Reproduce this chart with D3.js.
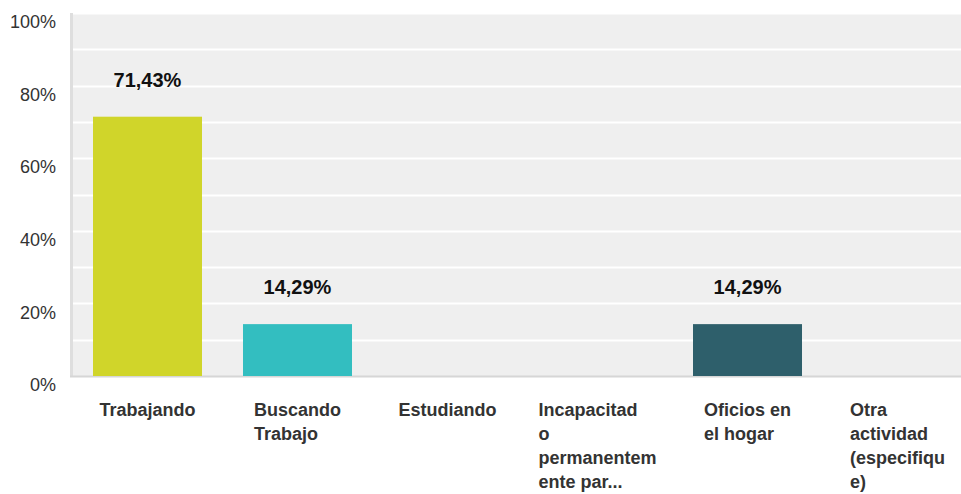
<!DOCTYPE html>
<html>
<head>
<meta charset="utf-8">
<script src="https://cdn.jsdelivr.net/npm/d3@7"></script>
<style>
  body { margin: 0; background: #fff; }
  text { font-family: "Liberation Sans", Arial, sans-serif; }
</style>
</head>
<body>
<div id="chart-area"></div>
<script>
// Data
var categories = ["Trabajando", "Buscando Trabajo", "Estudiando",
    "Incapacitado permanentemente par...", "Oficios en el hogar", "Otra actividad (especifique)"];
var labelLines = [
    ["Trabajando"],
    ["Buscando", "Trabajo"],
    ["Estudiando"],
    ["Incapacitad", "o", "permanentem", "ente par..."],
    ["Oficios en", "el hogar"],
    ["Otra", "actividad", "(especifiqu", "e)"]
];
var values = [71.43, 14.29, 0, 0, 14.29, 0];
var valueLabels = ["71,43%", "14,29%", "", "", "14,29%", ""];
var barColors = ["#d0d52a", "#33bec0", "#33bec0", "#33bec0", "#2e5f6b", "#2e5f6b"];
var yTicks = [0, 20, 40, 60, 80, 100];

var W = 961, H = 494;
var plot = { left: 70, top: 13, bottom: 376, right: 961 };

var svg = d3.select("#chart-area")
    .append("svg")
        .attr("width", W)
        .attr("height", H);

// Scales
var x = d3.scaleBand()
    .domain(categories)
    .range([plot.left, 975])
    .paddingInner(41 / 150)
    .paddingOuter(0.1533);
var y = d3.scaleLinear()
    .domain([0, 100])
    .range([plot.bottom, plot.top]);

// Plot background
svg.append("rect")
    .attr("x", plot.left)
    .attr("y", plot.top)
    .attr("width", plot.right - plot.left)
    .attr("height", plot.bottom - plot.top)
    .attr("fill", "#efefef");

// Gridlines every 10%
svg.append("g")
    .selectAll("line")
    .data(d3.range(10, 101, 10))
    .enter().append("line")
        .attr("x1", plot.left)
        .attr("x2", plot.right)
        .attr("y1", function(d) { return Math.round(y(d)) + 0.5; })
        .attr("y2", function(d) { return Math.round(y(d)) + 0.5; })
        .attr("stroke", "#fff")
        .attr("stroke-width", 2);

// Left border + bottom baseline
svg.append("rect")
    .attr("x", plot.left)
    .attr("y", plot.top)
    .attr("width", 3)
    .attr("height", plot.bottom - plot.top)
    .attr("fill", "#dedede");
svg.append("line")
    .attr("x1", plot.left)
    .attr("x2", plot.right)
    .attr("y1", plot.bottom + 0.5)
    .attr("y2", plot.bottom + 0.5)
    .attr("stroke", "#d6d6d6")
    .attr("stroke-width", 2);

// Y axis labels
var yAxisCall = d3.axisLeft(y)
    .tickValues(yTicks)
    .tickSize(0)
    .tickPadding(0)
    .tickFormat(function(d) { return d + "%"; });
var yAxis = svg.append("g")
    .attr("transform", "translate(56,9)")
    .call(yAxisCall);
yAxis.select(".domain").remove();
yAxis.selectAll("text")
    .attr("font-size", "18px")
    .attr("font-family", "'Liberation Sans', Arial, sans-serif")
    .attr("fill", "#333");

// Bars
svg.append("g")
    .selectAll("rect")
    .data(values)
    .enter().append("rect")
        .attr("x", function(d, i) { return x(categories[i]); })
        .attr("width", x.bandwidth())
        .attr("y", function(d) { return y(d); })
        .attr("height", function(d) { return plot.bottom - y(d); })
        .attr("fill", function(d, i) { return barColors[i]; });

// Value labels
svg.append("g")
    .selectAll("text")
    .data(values)
    .enter().append("text")
        .attr("x", function(d, i) { return x(categories[i]) + x.bandwidth() / 2; })
        .attr("y", function(d) { return y(d) - 30; })
        .attr("text-anchor", "middle")
        .attr("font-size", "20px")
        .attr("font-weight", "bold")
        .attr("fill", "#111")
        .text(function(d, i) { return valueLabels[i]; });

// Category labels: lines left aligned, block centred on the band
categories.forEach(function(cat, i) {
    var cx = x(cat) + x.bandwidth() / 2;
    var t = svg.append("text")
        .attr("font-size", "18px")
        .attr("font-weight", "bold")
        .attr("fill", "#333");
    labelLines[i].forEach(function(line, j) {
        t.append("tspan")
            .attr("y", 416 + j * 24)
            .text(line);
    });
    var maxW = 0;
    t.selectAll("tspan").each(function() {
        maxW = Math.max(maxW, this.getComputedTextLength());
    });
    t.selectAll("tspan").attr("x", cx - maxW / 2);
});
</script>
</body>
</html>
